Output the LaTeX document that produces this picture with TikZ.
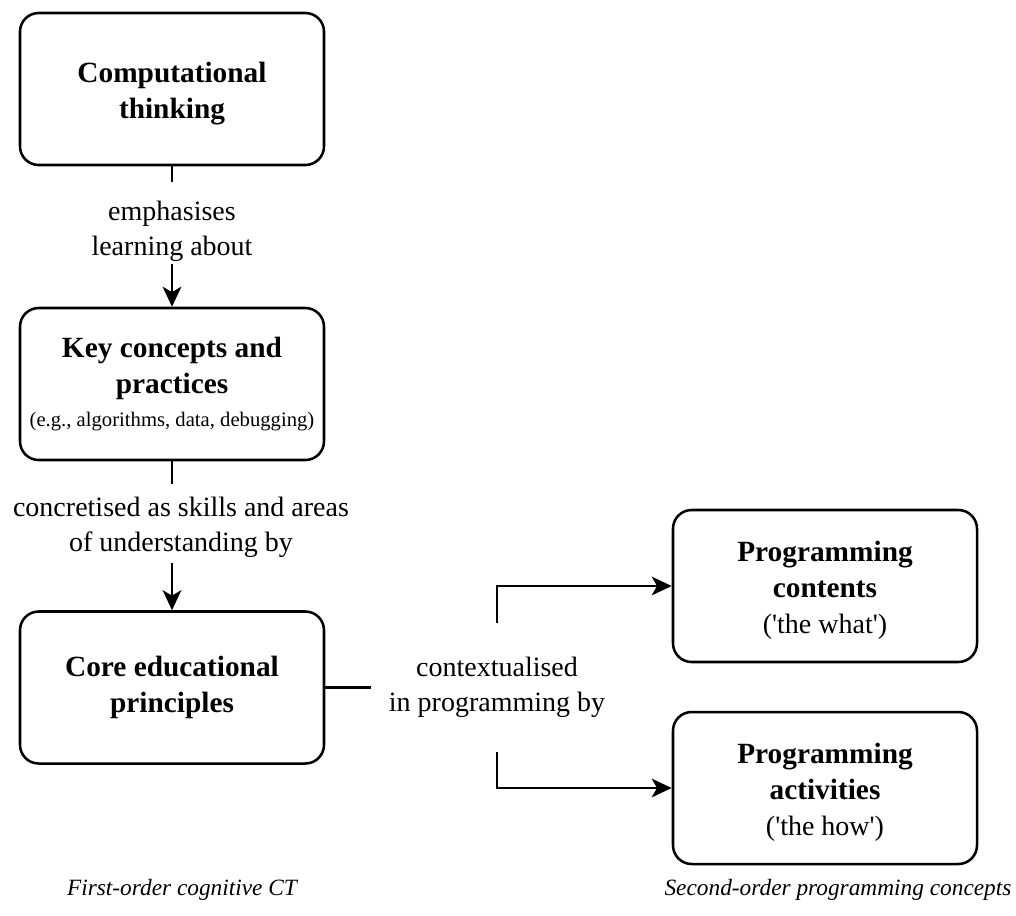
\documentclass[tikz,border=0pt]{standalone}
\usepackage{fontspec}
\setmainfont{Liberation Serif}[Ligatures=TeXOff]
\usetikzlibrary{arrows.meta}
% a little extra room above the first line of a box
\newcommand\firstlinestrut{\rule{0pt}{22pt}}

\begin{document}
\begin{tikzpicture}[x=0.75pt,y=-0.75pt,
  line width=1.9pt,
  box/.style={draw, rounded corners=14pt, align=center,
    minimum width=228pt, minimum height=114pt, inner sep=0pt,
    font=\fontsize{22}{27}\selectfont\bfseries},
  lbl/.style={align=center, inner sep=0pt, font=\fontsize{21}{26}\selectfont},
  note/.style={font=\fontsize{17.5}{21}\selectfont\itshape},
  arr/.style={-{Stealth[length=15pt,width=14pt,inset=4pt]}}]
  \useasboundingbox (0,0) rectangle (1016,915);

  % left column
  \node[box] (ct) at (172,89) {\firstlinestrut Computational\\thinking};
  \node[box] (kc) at (172,384) {Key concepts and\\practices\\[-2pt]\normalfont\fontsize{15.5}{18}\selectfont (e.g., algorithms, data, debugging)};
  \node[box] (ce) at (172,687.5) {Core educational\\principles};

  % right column
  \node[box] (pc) at (825,586) {\firstlinestrut Programming\\contents\\\normalfont\fontsize{21}{26}\selectfont ('the what')};
  \node[box] (pa) at (825,788) {\firstlinestrut Programming\\activities\\\normalfont\fontsize{21}{26}\selectfont ('the how')};

  % relation labels
  \node[lbl, minimum height=59pt, minimum width=150pt] (l1) at (172,231) {emphasises\\learning about};
  \node[lbl, minimum height=58pt, minimum width=250pt] (l2) at (181,527.5) {concretised as skills and areas\\of understanding by};
  \node[lbl, minimum height=95pt, minimum width=187pt] (l3) at (497,687.5) {contextualised\\in programming by};

  % connectors
  \draw (ct.south) -- ([yshift=6pt]l1.north);
  \draw[arr] ([yshift=6pt]l1.south) -- (kc.north);
  \draw (kc.south) -- ([yshift=3pt]kc.south |- l2.north);
  \draw[arr] ([yshift=3pt]kc.south |- l2.south) -- (ce.north);
  \draw (ce.east) -- (l3.west);
  \draw[arr] (l3.north) |- (pc.west);
  \draw[arr] (l3.south) |- (pa.west);

  % column captions
  \node[note] (c1) at (182,890) {First-order cognitive CT};
  \node[note] (c2) at (838,890) {Second-order programming concepts};
\end{tikzpicture}
\end{document}
